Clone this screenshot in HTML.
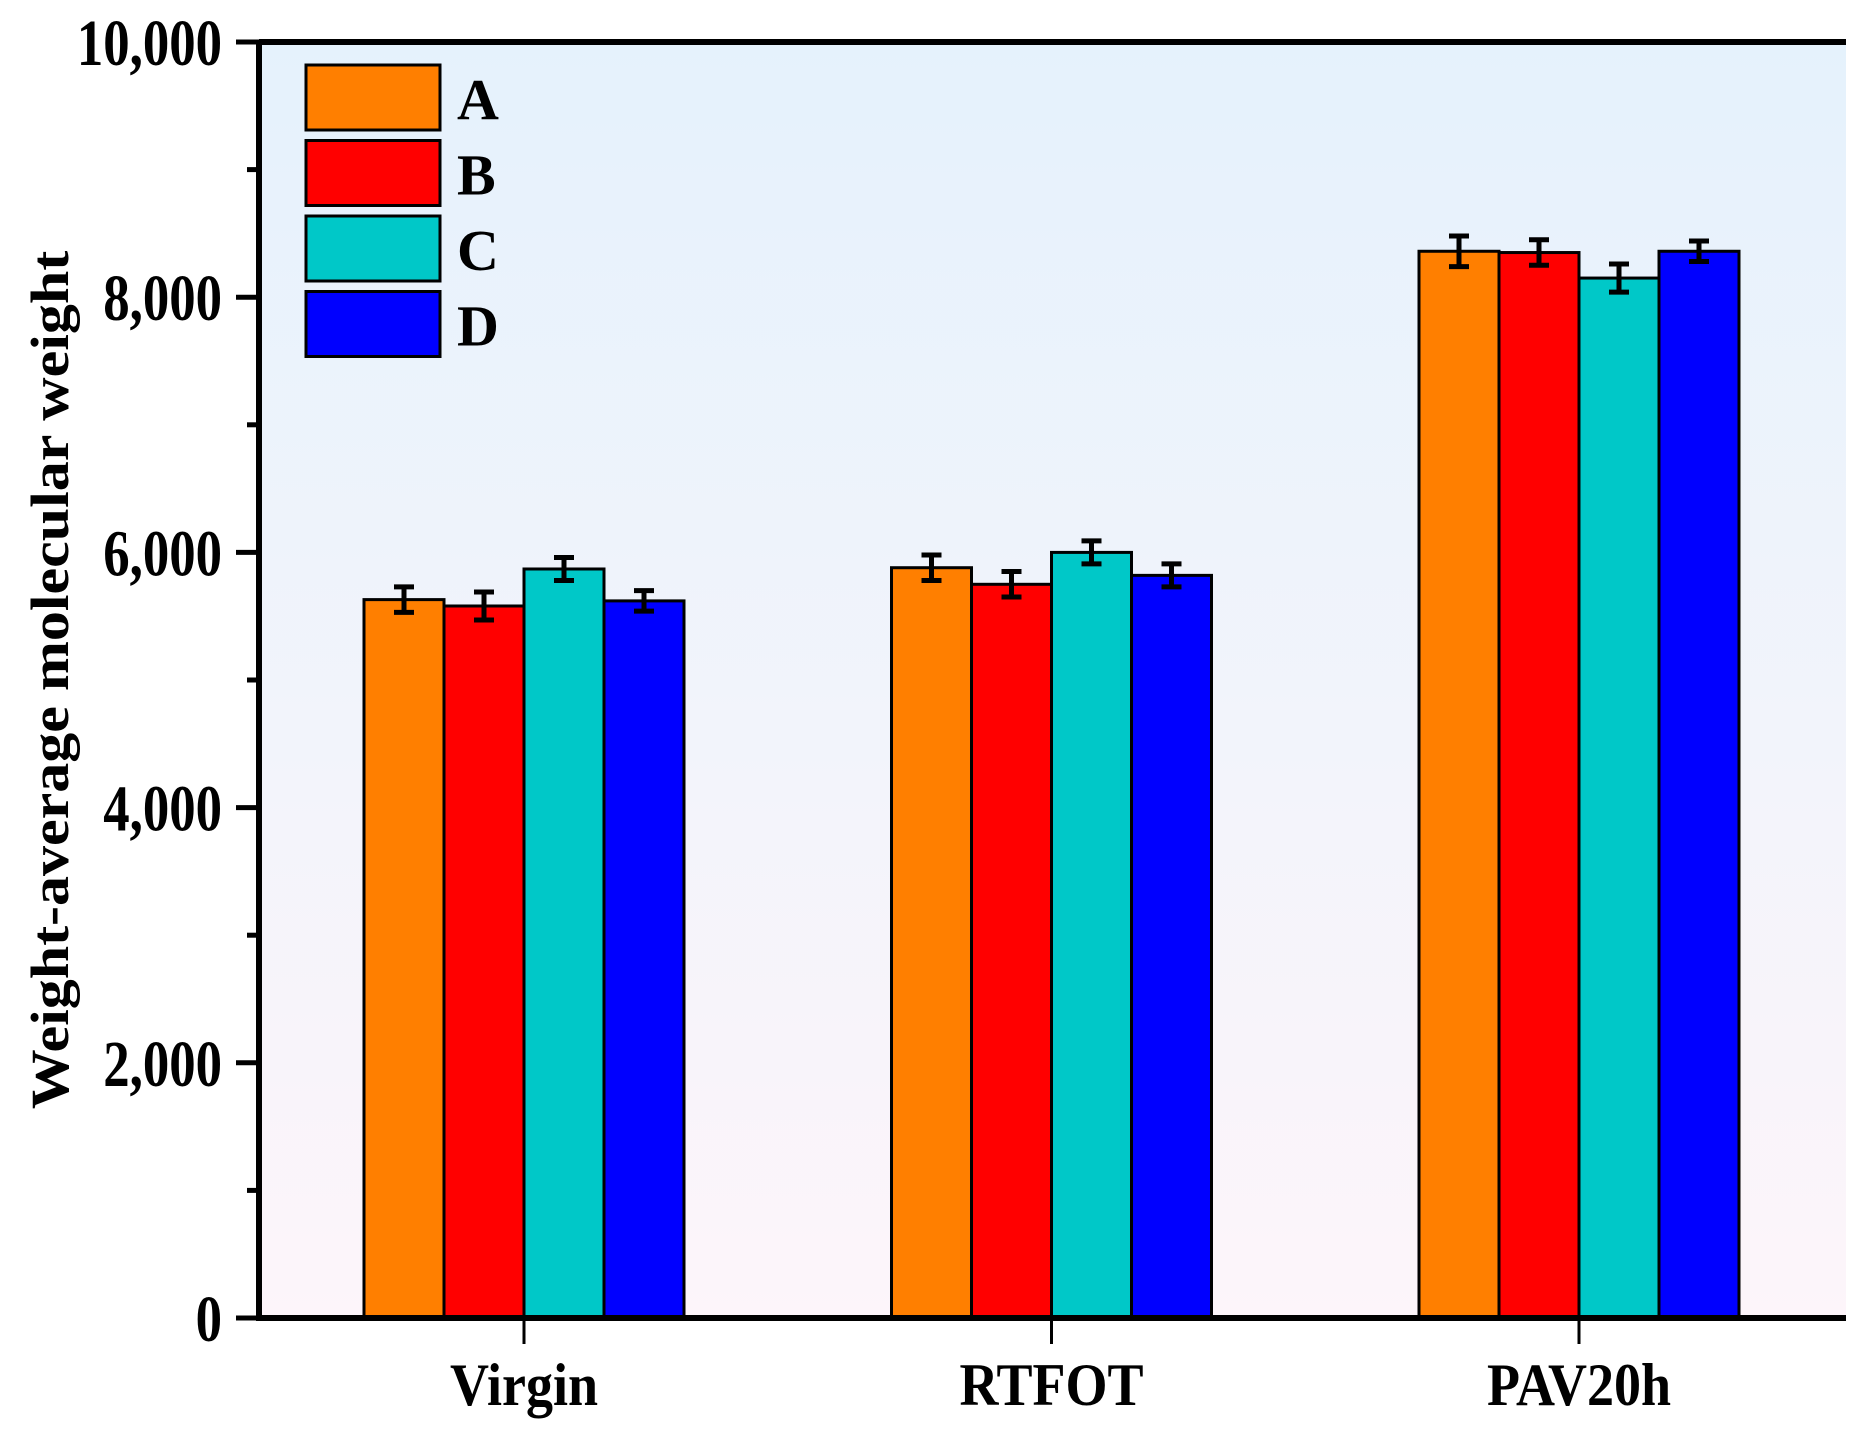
<!DOCTYPE html>
<html><head><meta charset="utf-8">
<style>
html,body{margin:0;padding:0;background:#fff;}
svg{display:block;}
text{font-family:"Liberation Serif",serif;font-weight:bold;fill:#000;}
</style></head>
<body>
<svg id="chart" width="1866" height="1437" viewBox="0 0 1866 1437">
<defs>
<linearGradient id="bg" x1="0" y1="0" x2="0" y2="1">
<stop offset="0" stop-color="#e5f2fc"/>
<stop offset="1" stop-color="#fdf5fa"/>
</linearGradient>
</defs>
<rect x="259" y="42" width="1587" height="1276" fill="url(#bg)"/>
<g id="bars"></g>
<g id="axes"></g>
<text x="0" y="0" font-size="60" text-anchor="middle" transform="translate(68,680) rotate(-90) scale(1,0.9)">Weight-average molecular weight</text>
<g id="legend"></g>
</svg>
<script>
const categories = ["Virgin", "RTFOT", "PAV20h"];
const seriesNames = ["A", "B", "C", "D"];
const seriesColors = ["#ff7f00", "#ff0000", "#00c8c8", "#0000ff"];
const valuesA = [5630, 5880, 8360];
const valuesB = [5580, 5750, 8350];
const valuesC = [5870, 6000, 8150];
const valuesD = [5620, 5820, 8360];
const errorsA = [100, 100, 120];
const errorsB = [110, 100, 100];
const errorsC = [90, 90, 110];
const errorsD = [80, 90, 80];
const yTicks = [0, 2000, 4000, 6000, 8000, 10000];
const yTickLabels = ["0", "2,000", "4,000", "6,000", "8,000", "10,000"];

const NS = "http://www.w3.org/2000/svg";
const plotL = 259, plotR = 1846, plotT = 42, plotB = 1318;
const yMax = 10000;
function yScale(v){ return plotB - v / yMax * (plotB - plotT); }
const cat0 = 524, catStep = 527.5;
function xScale(i){ return cat0 + i * catStep; }
const barW = 80;
function mk(tag, attrs, parent){
  const e = document.createElementNS(NS, tag);
  for (const k in attrs) e.setAttribute(k, attrs[k]);
  parent.appendChild(e);
  return e;
}
const allVals = [valuesA, valuesB, valuesC, valuesD];
const allErr = [errorsA, errorsB, errorsC, errorsD];
const gBars = document.getElementById("bars");
categories.forEach((c, i) => {
  seriesNames.forEach((s, j) => {
    const v = allVals[j][i];
    const x = xScale(i) - 2 * barW + j * barW;
    const r = mk("rect", {x: x, y: yScale(v), width: barW, height: plotB - yScale(v), fill: seriesColors[j], stroke: "#000", "stroke-width": 3}, gBars);
    
    
    const cx = x + barW / 2, e = allErr[j][i];
    const eb = mk("path", {d: "M" + cx + " " + yScale(v + e) + "V" + yScale(v - e) + "M" + (cx - 10) + " " + yScale(v + e) + "H" + (cx + 10) + "M" + (cx - 10) + " " + yScale(v - e) + "H" + (cx + 10), stroke: "#000", "stroke-width": 5, fill: "none"}, gBars);
    
    
  });
});
const gAx = document.getElementById("axes");
const frame = mk("path", {d: "M" + plotL + " " + plotT + "H" + plotR + "M" + plotL + " " + plotT + "V" + plotB + "H" + plotR, stroke: "#000", "stroke-width": 6, fill: "none"}, gAx);


for (let v = 0; v <= yMax; v += 1000) {
  const major = v % 2000 === 0;
  const t = mk("line", {x1: major ? 236 : 247, x2: plotL, y1: yScale(v), y2: yScale(v), stroke: "#000", "stroke-width": 5}, gAx);
  
  
}
yTicks.forEach((v, i) => {
  const t = mk("text", {x: 0, y: 0, "font-size": 66, "text-anchor": "end", transform: "translate(222," + (yScale(v) + 23) + ") scale(0.8,1)"}, gAx);
  t.textContent = yTickLabels[i];
  
  
});
categories.forEach((c, i) => {
  const t = mk("line", {x1: xScale(i), x2: xScale(i), y1: plotB, y2: 1344, stroke: "#000", "stroke-width": 3}, gAx);
  
  
  const l = mk("text", {x: 0, y: 0, "font-size": 60, "text-anchor": "middle", transform: "translate(" + xScale(i) + ",1405) scale(0.9,1)"}, gAx);
  l.textContent = c;
  
  
});
const gLeg = document.getElementById("legend");
seriesNames.forEach((s, j) => {
  const y = 65 + j * 75.5;
  const r = mk("rect", {x: 306, y: y, width: 134, height: 65, fill: seriesColors[j], stroke: "#000", "stroke-width": 3}, gLeg);
  
  
  const t = mk("text", {x: 457, y: y + 54, "font-size": 58}, gLeg);
  t.textContent = s;
  
  
});
</script>
</body></html>
